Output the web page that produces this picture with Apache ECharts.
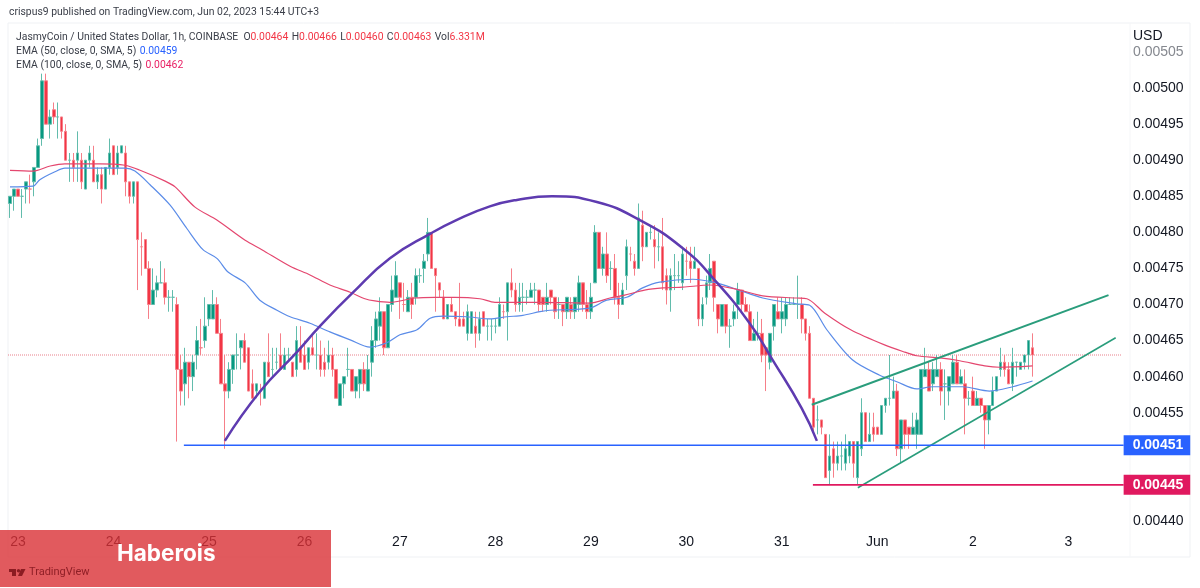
<!DOCTYPE html>
<html>
<head>
<meta charset="utf-8">
<style>html,body{margin:0;padding:0;background:#fff}#myChart1{width:1200px;height:588px}</style>
<script src="https://cdn.jsdelivr.net/npm/echarts@6/dist/echarts.min.js"></script>
</head>
<body>
<div id="myChart1"></div>
<script>
// prices are in units of 0.00001 USD, one entry per hour
var opens = [
484,485,486,485,486,486,487,489,493,501,495,497,496,496,494,490,490,490,490,486,
490,490,487,488,486,489,492,489,491,491,487,485,487,478,479,475,470,472,473,473,
471,471,470,461,459,462,460,463,464,465,468,468,470,466,459,458,461,463,464,465,
464,459,458,458,457,462,461,462,463,461,463,462,461,464,463,462,464,463,463,462,
462,463,461,456,459,461,461,458,459,461,458,462,465,467,469,464,470,471,473,470,
469,471,471,474,475,477,480,475,473,471,468,470,469,468,468,466,466,467,466,469,
467,467,467,467,469,469,473,472,470,471,471,471,472,472,471,470,472,471,470,470,
469,470,469,470,473,470,469,473,480,475,477,475,475,471,470,474,477,476,475,481,
478,480,479,478,478,474,472,474,474,473,476,476,475,475,468,471,473,476,470,467,
470,467,468,470,472,470,469,465,466,466,464,462,467,469,468,468,470,470,470,470,
468,466,457,454,454,452,447,450,448,449,448,449,451,446,450,455,451,453,453,452,
456,457,457,458,450,454,453,452,452,452,460,461,459,460,461,459,458,459,462,459,
459,457,458,456,457,456,454,456,458,461,462,461,459,462,461,462,463,464
];
var closes = [
485,486,485,485,487,486,489,492,501,495,496,496,496,494,490,490,489,491,487,490,
491,487,488,486,489,491,488,491,492,487,485,487,479,478,475,470,472,473,473,471,
471,471,461,458,462,460,462,465,464,467,470,470,466,459,458,461,463,463,465,462,
458,457,459,458,462,460,461,462,461,463,463,460,465,462,461,464,463,463,461,461,
463,461,457,459,460,461,458,460,461,459,461,465,468,469,464,470,472,474,471,470,
471,470,474,474,476,480,475,474,472,468,470,469,468,467,467,469,469,466,468,467,
467,467,467,470,469,473,472,470,471,471,471,472,472,470,470,471,471,469,470,469,
471,469,471,473,470,469,471,480,475,477,474,475,471,470,472,478,477,475,482,478,
480,480,478,478,473,472,474,474,474,477,476,475,476,468,470,473,475,471,468,470,
467,467,469,472,470,469,465,466,466,463,463,466,470,468,469,470,470,470,470,468,
466,457,453,454,453,446,449,448,449,449,450,451,448,451,455,451,452,452,452,456,
457,457,458,450,454,452,452,453,454,461,461,458,461,461,458,459,460,462,459,460,
457,457,456,457,456,454,456,458,460,462,461,459,462,462,462,463,465,463
];
var lows = [
482,483,485,482,484,484,485,489,492,495,493,495,493,493,490,487,487,487,486,486,
489,487,486,484,486,488,488,488,491,485,484,484,472,474,475,468,470,471,473,470,
469,469,451,456,456,457,458,461,463,464,467,468,466,459,450,457,459,461,461,462,
458,457,457,456,457,460,460,461,461,461,462,460,460,462,461,461,463,461,460,460,
461,460,457,456,457,460,458,457,457,458,458,460,464,465,463,464,469,471,468,469,
469,468,470,473,473,476,475,469,471,468,468,469,467,467,467,465,466,464,465,467,
465,465,466,467,468,465,471,469,469,469,470,471,470,469,469,469,470,468,468,467,
468,468,468,469,469,468,468,473,475,474,473,472,470,468,470,472,476,474,475,476,
478,479,475,476,472,470,469,472,473,472,474,473,475,467,467,470,472,469,466,467,
466,464,467,468,469,469,465,465,465,462,458,461,465,468,466,467,470,470,468,466,
465,457,452,452,452,446,445,446,447,447,447,448,446,445,449,451,451,451,452,452,
455,456,457,449,448,450,450,452,450,452,460,458,458,460,456,454,456,459,459,459,
452,456,456,456,455,450,452,456,458,460,460,459,458,460,461,461,461,460
];
var highs = [
485,486,486,486,487,488,489,493,502,502,497,498,498,496,495,491,491,494,491,490,
492,492,489,489,489,493,492,492,492,492,487,487,487,480,479,476,475,474,476,475,
472,472,471,463,464,462,463,467,468,471,470,472,471,468,463,462,463,466,465,466,
464,461,459,459,462,466,464,464,466,464,464,462,467,467,465,464,466,466,465,464,
465,464,461,459,460,464,461,460,461,462,463,467,469,471,469,470,474,476,473,473,
472,473,475,475,477,482,480,475,473,472,470,471,469,473,469,470,469,469,469,469,
468,468,468,471,470,473,475,473,473,473,472,473,473,472,471,473,472,471,471,470,
471,471,471,474,473,472,473,481,480,478,480,476,477,473,473,479,478,477,484,483,
480,481,481,480,482,475,475,477,476,478,478,478,478,475,471,474,477,476,470,470,
470,468,470,473,472,471,470,468,469,468,464,466,470,471,471,471,471,471,474,471,
468,467,457,456,454,452,452,451,451,451,452,451,451,451,457,455,455,455,453,456,
457,463,460,459,454,454,453,455,455,461,464,462,462,463,462,461,460,463,463,461,
461,458,460,458,457,456,456,460,460,464,463,462,464,462,462,463,465,466
];

var dayTickIndex = [2, 26, 50, 74, 98, 122, 146, 170, 194, 218, 242, 266];
var dayTickLabels = ['23', '24', '25', '26', '27', '28', '29', '30', '31', 'Jun', '2', '3'];
var slotCount = 282;

// lines: [hour index, price]
var ema50 = [[0,486.3],[5.8,486.4],[7.5,487.3],[11.3,488.4],[13.8,488.9],[18.8,488.9],[28.9,488.9],[31.4,488.5],[35.2,486.6],[40.2,483.8],[44.5,480.5],[48.5,477.6],[52,476.4],[54.8,474.5],[59.1,473],[62.8,470.6],[67.1,469.2],[70.4,468.3],[75.4,467.4],[80.4,466.2],[85.5,465.1],[90.5,464.1],[94.7,464.7],[98,465.8],[102.3,466.5],[105.6,468.1],[108.8,468.4],[114.8,468.3],[120.6,468],[124.9,468.3],[128.9,468.5],[133.2,469],[135.7,469.2],[145.7,469.5],[150,470.6],[155,471],[159,472.3],[163.3,473.1],[171.6,473.5],[177.6,473],[182.7,472.1],[189.2,470.9],[197.7,470.1],[201,469.9],[205.3,466.5],[211.8,462.3],[218.6,460.2],[222.9,459.3],[227.9,458.3],[231.9,458.6],[239.4,458.6],[246.2,458],[252,458.6],[257,459.4]];
var ema100 = [[0,488.6],[5.8,488.5],[10.1,489.2],[13.8,489.5],[22.6,489.5],[28.9,489.3],[32.7,488.6],[39,487.1],[41.5,486.3],[46.5,483.5],[52,481.7],[59.1,478.9],[63.3,477.6],[70.4,475.3],[75.4,474.1],[80.4,472.7],[85.5,471.7],[89.2,470.8],[91.7,470.5],[95.5,470.3],[101.8,470.9],[106.8,471],[111.8,471],[118.1,470.8],[121.9,470.3],[128.2,470.3],[133.2,470.3],[145.7,470.2],[150.8,470.9],[154.5,471.3],[159.5,472],[164.1,472.3],[169.1,472.4],[175.9,472.7],[182.7,472.1],[189.2,471.2],[197.7,470.9],[200.3,470.8],[204.8,468.8],[211.3,466.5],[219.8,464.4],[224.9,463.4],[227.9,462.9],[233.7,462.6],[238.7,462.2],[245,461.5],[248.7,461.3],[257,461.5]];
var arc = [[54,451.1],[62.8,457.9],[72.1,463.4],[77.9,467],[85.9,471.5],[95.5,476.4],[105.9,479.9],[112.2,481.7],[120.6,483.6],[127.4,484.5],[136.2,485],[147.5,484.2],[158.3,481.7],[169.1,477.8],[177.1,473.4],[185.9,467.4],[191.7,462.3],[199,455.6],[202.8,451.1]];
var channelTop = [[201.5,456.1],[276.1,471.3]];
var channelBottom = [[213.1,444.6],[277.9,465.4]];
var supportLine = [[43.7,450.5],[279.9,450.5]];
var lowLine = [[201.8,445],[279.9,445]];
var lastPriceLine = [[-0.5,463],[279.5,463]];

var categories = [];
for (var i = 0; i < slotCount; i++) {
    var pos = dayTickIndex.indexOf(i);
    categories.push(pos >= 0 ? dayTickLabels[pos] : '');
}
var candles = opens.map(function (o, i) {
    return [o, closes[i], lows[i], highs[i]];
});

function overlay(data, color, width, extra) {
    return Object.assign({
        type: 'line',
        xAxisIndex: 1,
        data: data,
        showSymbol: false,
        symbol: 'none',
        silent: true,
        z: 4,
        lineStyle: { color: color, width: width }
    }, extra || {});
}
function tag(text, bg) {
    return {
        show: true,
        formatter: text,
        color: '#fff',
        fontFamily: 'Liberation Sans',
        fontSize: 14,
        fontWeight: 'bold',
        backgroundColor: bg,
        padding: [3, 7, 3, 9],
        distance: 0
    };
}

var FONT = 'Liberation Sans';
var HEAD = '10.4px Roboto';
var INK = '#3a3e48';
var myChart = echarts.init(document.getElementById('myChart1'));
var option = {
    animation: false,
    backgroundColor: '#fff',
    grid: { left: 8, top: 52, width: 1122, height: 505 },
    xAxis: [{
        type: 'category',
        data: categories,
        boundaryGap: true,
        axisLine: { show: false },
        axisTick: { show: false },
        splitLine: { show: false },
        axisLabel: {
            inside: true,
            margin: 8,
            interval: function (index, value) { return value !== ''; },
            color: '#131722',
            fontFamily: FONT,
            fontSize: 14
        }
    }, {
        type: 'value',
        show: false,
        min: -0.5,
        max: slotCount - 0.5,
        splitLine: { show: false }
    }],
    yAxis: {
        type: 'value',
        position: 'right',
        min: 435,
        max: 505,
        interval: 5,
        axisLine: { show: false },
        axisTick: { show: false },
        splitLine: { show: false },
        axisLabel: {
            margin: 3,
            color: function (v) { return Number(v) === 505 || String(v).indexOf('0.00505') === 0 ? '#85888f' : '#131722'; },
            fontFamily: FONT,
            fontSize: 14,
            formatter: function (v) {
                return v === 435 ? '' : (v / 100000).toFixed(5);
            }
        }
    },
    series: [
        overlay(lastPriceLine, '#e9808c', 1, { z: 1, lineStyle: { color: '#e9808c', width: 1, type: 'dotted' } }),
        {
            type: 'candlestick',
            data: candles,
            barWidth: 3,
            silent: true,
            z: 2,
            itemStyle: {
                color: '#089981',
                color0: '#f23645',
                borderColor: '#62bcac',
                borderColor0: '#f67f89',
                borderWidth: 1
            }
        },
        overlay(ema50, '#5b8ce8', 1.2, { smooth: 0.3 }),
        overlay(ema100, '#e4476f', 1.2, { smooth: 0.3 }),
        overlay(arc, '#5e3bb0', 2.5, { smooth: 0.5, z: 5 }),
        overlay(channelTop, '#2a9d7c', 2, { z: 5 }),
        overlay(channelBottom, '#2a9d7c', 1.6, { z: 5 }),
        overlay(supportLine, '#2962ff', 1.6, { z: 5, endLabel: tag('0.00451', '#2962ff') }),
        overlay(lowLine, '#e0195f', 1.6, { z: 5, endLabel: tag('0.00445', '#e0195f') })
    ],
    graphic: [
        { type: 'rect', z: 0, silent: true, shape: { x: 8, y: 23, width: 1182, height: 534 }, style: { fill: 'none', stroke: '#eff1f4', lineWidth: 1 } },
        { type: 'line', z: 0, silent: true, shape: { x1: 1130, y1: 23, x2: 1130, y2: 557 }, style: { stroke: '#f5f6f8', lineWidth: 1 } },
        { type: 'text', z: 20, left: 9, top: 7, style: { text: 'crispus9 published on TradingView.com, Jun 02, 2023 15:44 UTC+3', fill: INK, font: HEAD } },
        { type: 'text', z: 20, left: 16, top: 31, style: {
            text: '{k|JasmyCoin / United States Dollar, 1h, COINBASE  O}{r|0.00464} {k|H}{r|0.00466} {k|L}{r|0.00460} {k|C}{r|0.00463} {k|Vol}{r|6.331M}',
            rich: { k: { fill: INK, font: HEAD }, r: { fill: '#f23645', font: HEAD } }
        } },
        { type: 'text', z: 20, left: 16, top: 45, style: {
            text: '{k|EMA (50, close, 0, SMA, 5)} {b|0.00459}',
            rich: { k: { fill: INK, font: HEAD }, b: { fill: '#2962ff', font: HEAD } }
        } },
        { type: 'text', z: 20, left: 16, top: 59, style: {
            text: '{k|EMA (100, close, 0, SMA, 5)} {b|0.00462}',
            rich: { k: { fill: INK, font: HEAD }, b: { fill: '#e91e63', font: HEAD } }
        } },
        { type: 'text', z: 20, left: 1133, top: 29, style: { text: 'USD', fill: '#131722', font: '14px ' + FONT } },
        { type: 'rect', z: 50, silent: true, shape: { x: 0, y: 530, width: 331, height: 57 }, style: { fill: 'rgba(218,49,54,0.8)' } },
        { type: 'text', z: 51, left: 117, top: 543, style: { text: 'Haberois', fill: '#fff', font: 'bold 22.5px Inter' } },
        { type: 'rect', z: 51, silent: true, shape: { x: 9, y: 569, width: 7, height: 3 }, style: { fill: '#8c1c22' } },
        { type: 'rect', z: 51, silent: true, shape: { x: 12, y: 569, width: 4, height: 7 }, style: { fill: '#8c1c22' } },
        { type: 'circle', z: 51, silent: true, shape: { cx: 18.5, cy: 570.8, r: 1.7 }, style: { fill: '#8c1c22' } },
        { type: 'polygon', z: 51, silent: true, shape: { points: [[21, 569], [25.5, 569], [22, 576], [18, 576]] }, style: { fill: '#8c1c22' } },
        { type: 'text', z: 51, left: 29, top: 567, style: { text: 'TradingView', fill: '#8f1f26', font: '11px Roboto' } }
    ]
};
myChart.setOption(option);
</script>
</body>
</html>
